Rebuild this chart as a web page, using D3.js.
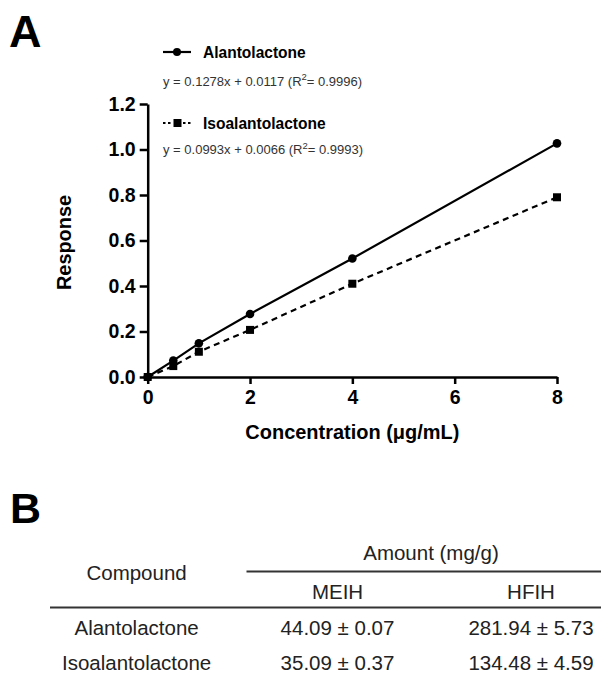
<!DOCTYPE html>
<html>
<head>
<meta charset="utf-8">
<script src="https://cdn.jsdelivr.net/npm/d3@7"></script>
<style>
  html, body { margin: 0; padding: 0; background: #fff; }
  svg { display: block; font-family: "Liberation Sans", Arial, Helvetica, sans-serif; }
</style>
</head>
<body>
<svg id="chart" width="604" height="675"></svg>
<script>
// ---- Data ----
const concentrations = [0, 0.5, 1, 2, 4, 8];
const alantolactone = [0, 0.072, 0.148, 0.277, 0.521, 1.027];
const isoalantolactone = [0, 0.048, 0.111, 0.207, 0.410, 0.790];
const seriesNames = ["Alantolactone", "Isoalantolactone"];
const equations = [
  ["y = 0.1278x + 0.0117 (R", "2", "= 0.9996)"],
  ["y = 0.0993x + 0.0066 (R", "2", "= 0.9993)"]
];
const xTicks = [0, 2, 4, 6, 8];
const yTicks = [0.0, 0.2, 0.4, 0.6, 0.8, 1.0, 1.2];
const xTitle = "Concentration (\u03bcg/mL)";
const yTitle = "Response";

const tableGroupHeader = "Amount (mg/g)";
const tableFirstHeader = "Compound";
const tableColumns = ["MEIH", "HFIH"];
const tableCompounds = ["Alantolactone", "Isoalantolactone"];
const tableMEIH = ["44.09 \u00b1 0.07", "35.09 \u00b1 0.37"];
const tableHFIH = ["281.94 \u00b1 5.73", "134.48 \u00b1 4.59"];

// ---- Layout ----
const svg = d3.select("#chart");
const plot = { left: 147.7, right: 557, top: 104, bottom: 377 };

const x = d3.scaleLinear().domain([0, 8]).range([plot.left, plot.right]);
const y = d3.scaleLinear().domain([0, 1.2]).range([plot.bottom, plot.top]);

// Panel labels
svg.append("text").attr("x", 9).attr("y", 47).text("A")
  .attr("font-size", 45).attr("font-weight", "bold").attr("fill", "#000");
svg.append("text").attr("x", 10).attr("y", 523).text("B")
  .attr("font-size", 43).attr("font-weight", "bold").attr("fill", "#000");

// Axes
const yAxis = d3.axisLeft(y).tickValues(yTicks).tickFormat(d3.format(".1f"))
  .tickSize(8).tickSizeOuter(0).tickPadding(4);
const xAxis = d3.axisBottom(x).tickValues(xTicks).tickFormat(d3.format("d"))
  .tickSize(7).tickSizeOuter(0).tickPadding(6);

const gy = svg.append("g").attr("transform", `translate(${plot.left},0)`).call(yAxis);
const gx = svg.append("g").attr("transform", `translate(0,${plot.bottom})`).call(xAxis);
[gx, gy].forEach(g => {
  g.select(".domain").attr("stroke", "#000").attr("stroke-width", 2.5);
  g.selectAll(".tick line").attr("stroke", "#000").attr("stroke-width", 2.5);
  g.selectAll(".tick text").attr("fill", "#000").attr("font-size", 19.5)
    .attr("font-weight", "bold").attr("font-family", "Liberation Sans, Arial, sans-serif");
});

// Axis titles
svg.append("text").attr("x", (plot.left + plot.right) / 2).attr("y", 439)
  .attr("text-anchor", "middle").attr("font-size", 19.5).attr("font-weight", "bold")
  .attr("textLength", 214).attr("lengthAdjust", "spacingAndGlyphs")
  .text(xTitle);
svg.append("text").attr("transform", `translate(71,${(plot.top + plot.bottom) / 2 + 2}) rotate(-90)`)
  .attr("text-anchor", "middle").attr("font-size", 20).attr("font-weight", "bold")
  .attr("textLength", 95).attr("lengthAdjust", "spacingAndGlyphs")
  .text(yTitle);

// Series
const line = d3.line().x(d => x(d[0])).y(d => y(d[1]));
const isoData = concentrations.map((c, i) => [c, isoalantolactone[i]]);
const alaData = concentrations.map((c, i) => [c, alantolactone[i]]);

svg.append("path").datum(isoData).attr("d", line).attr("fill", "none")
  .attr("stroke", "#000").attr("stroke-width", 2.2).attr("stroke-dasharray", "6,4.5");
svg.append("path").datum(alaData).attr("d", line).attr("fill", "none")
  .attr("stroke", "#000").attr("stroke-width", 2.2);

const sq = 8;
svg.append("g").selectAll("rect").data(isoData).join("rect")
  .attr("x", d => x(d[0]) - sq / 2).attr("y", d => y(d[1]) - sq / 2)
  .attr("width", sq).attr("height", sq).attr("fill", "#000");
svg.append("g").selectAll("circle").data(alaData).join("circle")
  .attr("cx", d => x(d[0])).attr("cy", d => y(d[1])).attr("r", 4.3).attr("fill", "#000");

// Legend
const legend = svg.append("g");
const legendRows = [
  { symY: 52, textY: 58.3, eqY: 85.5, dash: null, shape: "circle", nameLen: 102.7 },
  { symY: 123, textY: 128.5, eqY: 154, dash: "2.5,2.5", shape: "square", nameLen: 122.7 }
];
legendRows.forEach((r, i) => {
  legend.append("line").attr("x1", 163).attr("x2", 191).attr("y1", r.symY).attr("y2", r.symY)
    .attr("stroke", "#000").attr("stroke-width", 2.2)
    .attr("stroke-dasharray", r.dash);
  if (r.shape === "circle") {
    legend.append("circle").attr("cx", 177).attr("cy", r.symY).attr("r", 4).attr("fill", "#000");
  } else {
    legend.append("rect").attr("x", 172).attr("y", r.symY - 4).attr("width", 10).attr("height", 8).attr("fill", "#fff");
    legend.append("rect").attr("x", 173.5).attr("y", r.symY - 4).attr("width", 8).attr("height", 8).attr("fill", "#000");
  }
  legend.append("text").attr("x", 203).attr("y", r.textY).attr("font-size", 16.5)
    .attr("font-weight", "bold").attr("fill", "#000")
    .attr("textLength", r.nameLen).attr("lengthAdjust", "spacingAndGlyphs")
    .text(seriesNames[i]);
  const eq = legend.append("text").attr("x", 163).attr("y", r.eqY).attr("font-size", 13).attr("fill", "#333");
  eq.append("tspan").text(equations[i][0]);
  eq.append("tspan").attr("dy", -5.5).attr("font-size", 9.5).text(equations[i][1]);
  eq.append("tspan").attr("dy", 5.5).text(equations[i][2]);
});

// ---- Table ----
const table = svg.append("g").attr("fill", "#222").attr("font-size", 20.5);
const colX = [136.6, 337.5, 531];
table.append("text").attr("x", 431).attr("y", 560).attr("text-anchor", "middle").text(tableGroupHeader);
table.append("text").attr("x", colX[0]).attr("y", 580).attr("text-anchor", "middle").text(tableFirstHeader);
table.append("line").attr("x1", 246.5).attr("x2", 601).attr("y1", 571.5).attr("y2", 571.5)
  .attr("stroke", "#333").attr("stroke-width", 2);
tableColumns.forEach((c, i) => {
  table.append("text").attr("x", colX[i + 1]).attr("y", 598.5).attr("text-anchor", "middle").text(c);
});
table.append("line").attr("x1", 50).attr("x2", 601).attr("y1", 607.5).attr("y2", 607.5)
  .attr("stroke", "#333").attr("stroke-width", 2);
const rowY = [635, 670];
tableCompounds.forEach((name, i) => {
  table.append("text").attr("x", colX[0]).attr("y", rowY[i]).attr("text-anchor", "middle").text(name);
  table.append("text").attr("x", colX[1]).attr("y", rowY[i]).attr("text-anchor", "middle").text(tableMEIH[i]);
  table.append("text").attr("x", colX[2]).attr("y", rowY[i]).attr("text-anchor", "middle").text(tableHFIH[i]);
});
</script>
</body>
</html>
